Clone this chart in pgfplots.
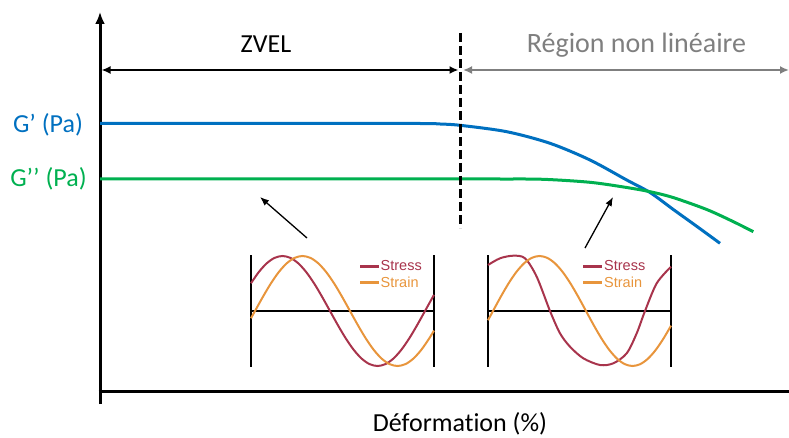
\documentclass[border=0pt]{standalone}
\usepackage{pgfplots}
\pgfplotsset{compat=1.18}
\usepackage{fontspec}
\setmainfont{Carlito}[Ligatures=NoCommon]
\newfontfamily\arialf{Liberation Sans}
\usetikzlibrary{arrows.meta}
\definecolor{gblue}{HTML}{0070C0}
\definecolor{ggreen}{HTML}{00B050}
\definecolor{ggray}{HTML}{7F7F7F}
\definecolor{stress}{HTML}{A8344C}
\definecolor{strain}{HTML}{E8953C}
\begin{document}
\begin{tikzpicture}
\begin{axis}[hide axis, scale only axis, width=789pt, height=437pt,
  xmin=0, xmax=789, ymin=-437, ymax=0, clip=false]
\coordinate (bl) at (rel axis cs:0,0);
\coordinate (tr) at (rel axis cs:1,1);
% axes
\addplot[line width=3pt, black, -{Latex[length=12pt,width=10pt]}] coordinates {(100,-404) (100,-12)};
\addplot[line width=3pt, black] coordinates {(98.5,-391) (789,-391)};
% region arrows
\addplot[line width=1.8pt, black, {Latex[length=9pt,width=8pt]}-{Latex[length=9pt,width=8pt]}] coordinates {(101.5,-70) (458.5,-70)};
\addplot[line width=1.8pt, ggray, {Latex[length=9pt,width=8pt]}-{Latex[length=9pt,width=8pt]}] coordinates {(463,-70) (789,-70)};
% G' curve
\addplot[line width=3pt, gblue, smooth] coordinates {
(100,-123.5) (200,-123.5) (300,-123.5) (420,-123.5) (440,-124) (460,-125.3) (506.7,-131.7)
(550,-143.3) (590,-160) (626.7,-180) (650,-192.5) (673.3,-209.5) (696.7,-226.3) (720,-243.3)};
% G'' curve
\addplot[line width=3pt, ggreen, smooth] coordinates {
(100,-179) (200,-179) (300,-179) (400,-179) (500,-179) (543,-179.3) (590,-182.3) (626.7,-187.5)
(650,-191.7) (673,-197.5) (706.7,-209.5) (733,-221.5) (753.3,-231.7)};
% dashed boundary
\addplot[line width=3.5pt, black, dash pattern=on 9pt off 4pt] coordinates {(460.5,-33) (460.5,-228)};
% small arrows
\addplot[line width=1.3pt, black, -{Latex[length=9pt,width=7pt]}] coordinates {(307,-238) (260,-197)};
\addplot[line width=1.3pt, black, -{Latex[length=9pt,width=7pt]}] coordinates {(585,-248) (613,-197)};
% left inset frame
\addplot[line width=2.8pt, black] coordinates {(251,-255) (251,-367)};
\addplot[line width=2.8pt, black] coordinates {(434,-255) (434,-367)};
\addplot[line width=2.8pt, black] coordinates {(251,-311) (434,-311)};
% left stress
\addplot[line width=2pt, stress, smooth] coordinates {
(251,-283.25) (258.75,-272.11) (266.67,-263.37) (274.58,-257.87) (282.5,-256) (290.42,-257.87)
(298.33,-263.37) (306.25,-272.11) (314.17,-283.5) (322.08,-296.77) (330,-311) (337.92,-325.23)
(345.83,-338.5) (353.75,-349.89) (361.67,-358.63) (369.58,-364.13) (377.5,-366) (385.42,-364.13)
(393.33,-358.63) (401.25,-349.89) (409.17,-338.5) (417.08,-325.23) (425,-311) (432.92,-296.77) (434,-294.87)};
% left strain
\addplot[line width=2pt, strain, smooth] coordinates {
(251,-318.25) (255,-311) (262.92,-296.77) (270.83,-283.5) (278.75,-272.11) (286.67,-263.37)
(294.58,-257.87) (302.5,-256) (310.42,-257.87) (318.33,-263.37) (326.25,-272.11) (334.17,-283.5)
(342.08,-296.77) (350,-311) (357.92,-325.23) (365.83,-338.5) (373.75,-349.89) (381.67,-358.63)
(389.58,-364.13) (397.5,-366) (405.42,-364.13) (413.33,-358.63) (421.25,-349.89) (429.17,-338.5) (434,-330.57)};
% left legend
\addplot[line width=3pt, stress] coordinates {(360,-266) (379,-266)};
\addplot[line width=3pt, strain] coordinates {(360,-282.7) (379,-282.7)};
\node[anchor=west, inner sep=0pt, text=stress, font=\arialf\fontsize{14.5}{16}\selectfont] at (axis cs:380.5,-266) {Stress};
\node[anchor=west, inner sep=0pt, text=strain, font=\arialf\fontsize{14.5}{16}\selectfont] at (axis cs:380.5,-282.7) {Strain};
% right inset frame
\addplot[line width=2.8pt, black] coordinates {(488,-255) (488,-367)};
\addplot[line width=2.8pt, black] coordinates {(671,-255) (671,-367)};
\addplot[line width=2.8pt, black] coordinates {(488,-311) (671,-311)};
% right stress (distorted)
\addplot[line width=2pt, stress, smooth] coordinates {
(488,-265) (500,-258.3) (513.3,-255.7) (525,-258.3) (536.7,-276.7) (550,-311) (560,-333.3)
(570,-346.7) (583.3,-358.3) (600,-365) (613.3,-363.3) (626.7,-353.3) (636.7,-333.3) (645,-311)
(656.7,-283.3) (671,-266.7)};
% right strain
\addplot[line width=2pt, strain, smooth] coordinates {
(488,-320.25) (493,-311) (500.75,-296.77) (508.5,-283.5) (516.25,-272.11) (524,-263.37)
(531.75,-257.87) (539.5,-256) (547.25,-257.87) (555,-263.37) (562.75,-272.11) (570.5,-283.5)
(578.25,-296.77) (586,-311) (593.75,-325.23) (601.5,-338.5) (609.25,-349.89) (617,-358.63)
(624.75,-364.13) (632.5,-366) (640.25,-364.13) (648,-358.63) (655.75,-349.89) (663.5,-338.5) (671,-325.7)};
% right legend
\addplot[line width=3pt, stress] coordinates {(583.3,-266) (602,-266)};
\addplot[line width=3pt, strain] coordinates {(583.3,-282.7) (602,-282.7)};
\node[anchor=west, inner sep=0pt, text=stress, font=\arialf\fontsize{14.5}{16}\selectfont] at (axis cs:604,-266) {Stress};
\node[anchor=west, inner sep=0pt, text=strain, font=\arialf\fontsize{14.5}{16}\selectfont] at (axis cs:604,-282.7) {Strain};
% texts
\node[anchor=base, inner sep=0pt, font=\fontsize{26}{30}\selectfont] at (axis cs:266,-52.3) {ZVEL};
\node[anchor=base, inner sep=0pt, text=ggray, font=\fontsize{28}{32}\selectfont] at (axis cs:636.5,-52.3) {Région non linéaire};
\node[anchor=base, inner sep=0pt, text=gblue, font=\fontsize{26}{30}\selectfont] at (axis cs:48,-132.7) {G’ (Pa)};
\node[anchor=base, inner sep=0pt, text=ggreen, font=\fontsize{26}{30}\selectfont] at (axis cs:48.5,-186) {G’’ (Pa)};
\node[anchor=base, inner sep=0pt, font=\fontsize{26}{30}\selectfont] at (axis cs:460,-431.5) {Déformation (\%)};
\end{axis}
\pgfresetboundingbox
\path (bl) rectangle (tr);
\end{tikzpicture}
\end{document}
